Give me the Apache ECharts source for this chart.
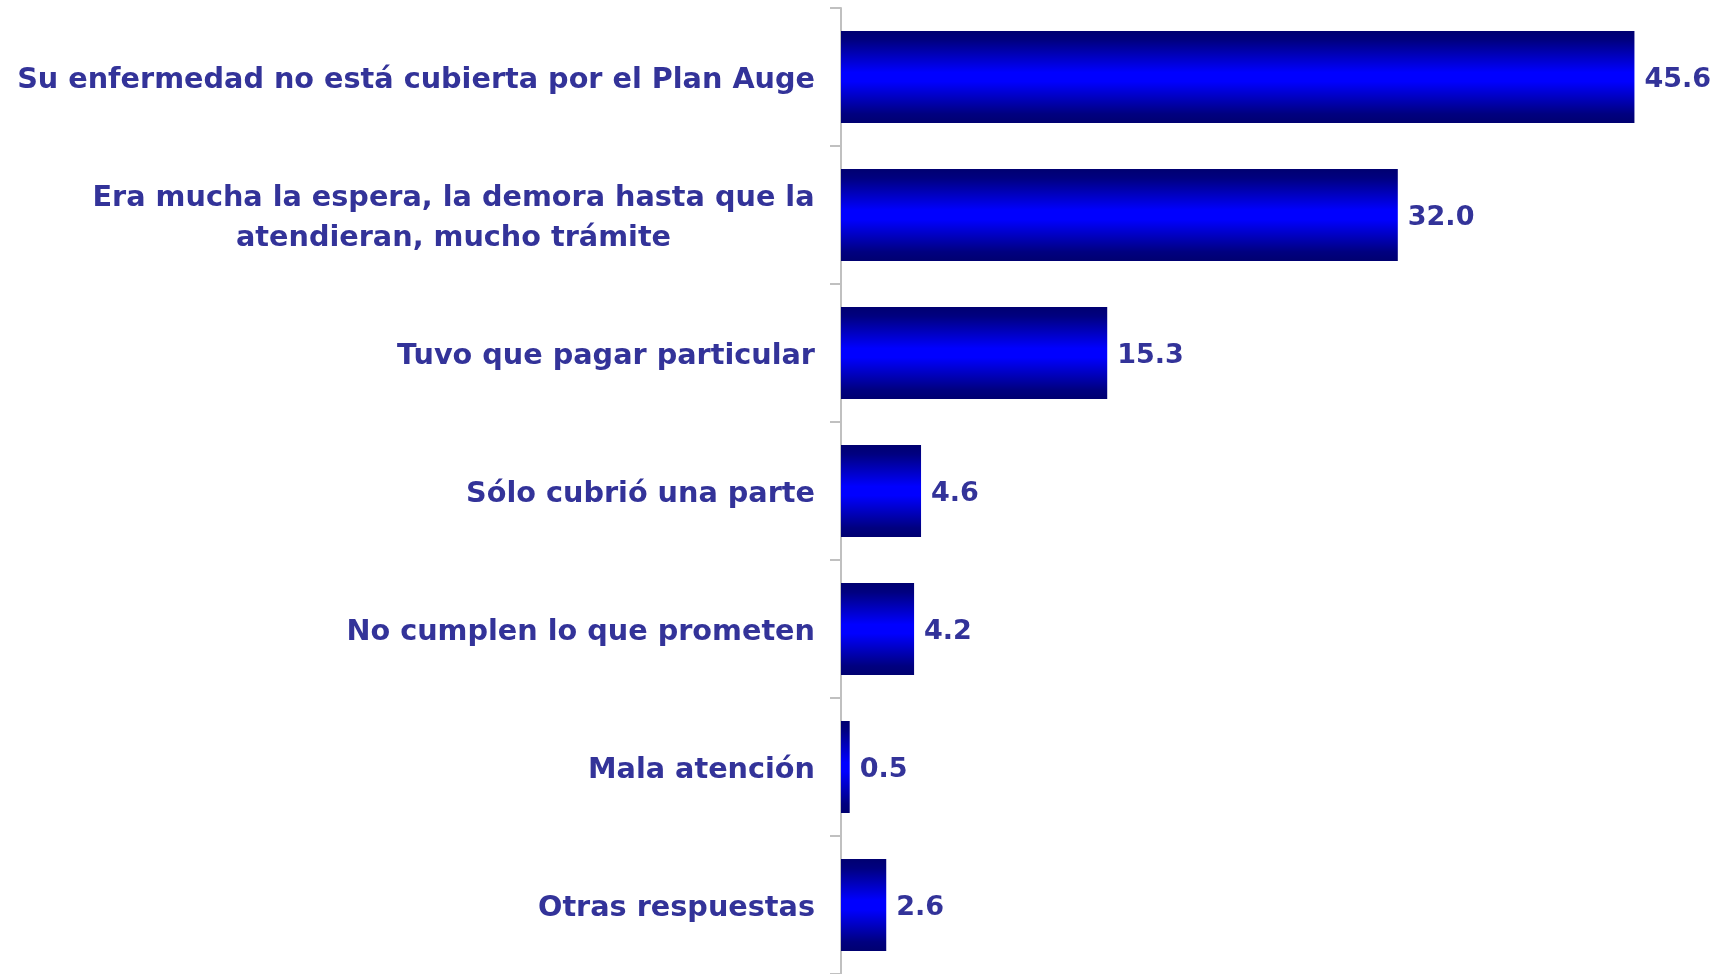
<!DOCTYPE html>
<html><head><meta charset="utf-8">
<script src="https://cdn.jsdelivr.net/npm/echarts@6/dist/echarts.min.js"></script>
<style>html,body{margin:0;padding:0;background:#fff}#c{width:1724px;height:974px}</style>
</head><body><div id="c"></div>
<script>
const categories = [
  "Su enfermedad no está cubierta por el Plan Auge",
  "Era mucha la espera, la demora hasta que la\natendieran, mucho trámite",
  "Tuvo que pagar particular",
  "Sólo cubrió una parte",
  "No cumplen lo que prometen",
  "Mala atención",
  "Otras respuestas"
];
const values = [45.6, 32.0, 15.3, 4.6, 4.2, 0.5, 2.6];

const FONT = "DejaVu Sans";
const TXT = "#333399";
const CAT_SIZE = 28.7;
const ctx = document.createElement('canvas').getContext('2d');
ctx.font = 'bold ' + CAT_SIZE + 'px "' + FONT + '"';
function blockWidth(s) {
  return Math.ceil(Math.max(...s.split('\n').map(l => ctx.measureText(l).width)));
}
const chart = echarts.init(document.getElementById('c'), null, {renderer: 'canvas'});
chart.setOption({
  animation: false,
  grid: {left: 841, right: 13, top: 8, bottom: 0, containLabel: false},
  xAxis: {type: 'value', min: 0, max: 50, show: false},
  yAxis: {
    type: 'category', data: categories, inverse: true,
    axisLine: {show: true, lineStyle: {color: '#c0c0c0', width: 2}},
    axisTick: {show: true, length: 11, lineStyle: {color: '#c0c0c0', width: 2}},
    axisLabel: {
      margin: 26, color: TXT, fontFamily: FONT, fontWeight: 'bold', fontSize: CAT_SIZE,
      lineHeight: 40, align: 'right', padding: [7, 0, 0, 0],
      formatter: v => {
        if (v.indexOf('\n') < 0) return v;
        return v.split('\n').map(l => '{c|' + l + '}').join('\n');
      },
      rich: {
        c: {width: blockWidth(categories[1]), align: 'center', color: TXT, fontFamily: FONT,
            fontWeight: 'bold', fontSize: CAT_SIZE, lineHeight: 40}
      }
    }
  },
  series: [{
    type: 'bar', data: values, barWidth: 92,
    itemStyle: {color: new echarts.graphic.LinearGradient(0, 0, 0, 1, [
      {offset: 0, color: '#000070'},
      {offset: 0.1, color: '#000080'},
      {offset: 0.45, color: '#0000ff'},
      {offset: 0.55, color: '#0000ff'},
      {offset: 0.9, color: '#000080'},
      {offset: 1, color: '#000070'}
    ])},
    label: {show: true, position: 'right', distance: 10, offset: [0, 3], color: TXT, fontFamily: FONT,
      fontWeight: 'bold', fontSize: 27, formatter: p => p.value.toFixed(1)}
  }]
});
</script></body></html>
